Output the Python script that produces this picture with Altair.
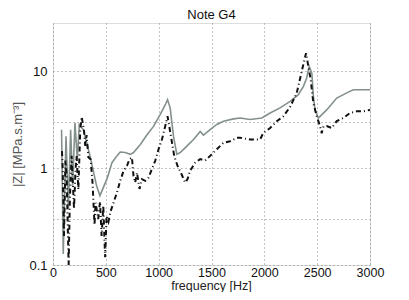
import altair as alt
import pandas as pd

gray_f = [81, 97, 123, 145, 167, 186, 208, 230, 249, 287, 350, 412, 444, 510, 558, 605, 636, 684,
          731, 762, 825, 888, 951, 1015, 1062, 1084, 1109, 1140, 1172, 1204, 1267, 1330, 1393, 1424,
          1487, 1550, 1613, 1708, 1771, 1865, 1976, 2055, 2149, 2244, 2322, 2370, 2400, 2425, 2450,
          2464, 2480, 2511, 2590, 2685, 2780, 2842, 3000]
gray_v = [2.5, 0.13, 2.14, 0.38, 2.5, 0.66, 2.94, 1.24, 2.83, 2.5, 1.34, 0.66, 0.52, 0.77, 1.14, 1.34,
          1.47, 1.45, 1.39, 1.45, 1.75, 2.2, 2.7, 3.6, 4.5, 5.1, 4.2, 2.14, 1.39, 1.45, 1.69, 1.98, 2.4,
          2.2, 2.5, 2.83, 3.06, 3.23, 3.3, 3.18, 3.3, 3.72, 4.2, 4.9, 5.75, 7.0, 8.5, 11.2, 9.5,
          5.5, 4.0, 3.3, 4.0, 5.3, 6.0, 6.45, 6.45]

black_f = [85, 91, 104, 118, 129, 148, 160, 176, 199, 212, 223, 240, 258, 271, 293, 305, 318, 335,
           356, 374, 393, 403, 428, 445, 460, 476, 493, 507, 525, 542, 573, 605, 636, 668, 700, 724,
           747, 762, 778, 795, 819, 841, 873, 904, 936, 967, 999, 1031, 1062, 1084, 1116, 1147, 1178,
           1210, 1251, 1273, 1298, 1345, 1393, 1440, 1487, 1550, 1613, 1676, 1740, 1771, 1865, 1960,
           1991, 2055, 2118, 2180, 2244, 2307, 2354, 2385, 2395, 2417, 2439, 2464, 2496, 2527, 2543,
           2560, 2590, 2638, 2685, 2748, 2811, 2874, 2937, 3000]
black_v = [1.5, 1.05, 0.2, 1.2, 0.83, 0.1, 0.5, 1.34, 0.38, 0.9, 1.34, 0.6, 2.5, 3.4, 2.5, 1.7, 2.2,
           1.3, 1.24, 0.71, 0.26, 0.44, 0.30, 0.45, 0.2, 0.41, 0.12, 0.32, 0.28, 0.35, 0.44, 0.56, 0.74,
           0.94, 1.06, 1.24, 1.29, 0.83, 0.71, 0.9, 0.61, 0.77, 0.74, 0.8, 0.98, 1.19, 1.57, 1.98, 2.72,
           3.44, 2.14, 1.34, 1.06, 0.9, 0.71, 0.77, 0.94, 1.14, 1.24, 1.2, 1.34, 1.57, 1.83, 1.9, 2.06,
           2.06, 1.98, 1.98, 2.32, 2.6, 3.06, 3.44, 4.3, 6.0, 10.0, 14.0, 15.4, 11.2, 8.2, 4.7, 3.44,
           2.72, 2.3, 2.7, 2.72, 2.6, 3.06, 3.3, 3.72, 3.87, 3.87, 4.0]

y_ticks = [0.1, 0.3, 1, 3, 10]
x_ticks = [0, 500, 1000, 1500, 2000, 2500, 3000]

gray_df = pd.DataFrame({"f": gray_f, "z": gray_v})
black_df = pd.DataFrame({"f": black_f, "z": black_v})

FONT = "Liberation Sans"
TOP = 15
H = 242

x_enc = alt.X("f:Q", scale=alt.Scale(domain=[0, 3000], nice=False),
              axis=alt.Axis(values=x_ticks, format="d", title="frequency [Hz]", grid=True,
                            gridDash=[1, 3], gridColor="#888888", gridOpacity=1,
                            ticks=False, domain=False, labelFontSize=12.5, titleFontSize=12.5,
                            labelPadding=1, labelColor="#111111",
                            titleColor="#222222", titleFontWeight="normal", labelFont=FONT,
                            titleFont=FONT, labelFlush=False,
                            titleBaseline="alphabetic", titleY=284 - 2.5 - TOP - H, titleX=158,
                            titleAlign="center"))
y_enc = alt.Y("z:Q", scale=alt.Scale(type="log", domain=[0.1, 31.6], nice=False),
              axis=alt.Axis(values=y_ticks, title="|Z|  [MPa.s.m⁻³]", grid=True,
                            gridDash=[1, 3], gridColor="#888888", gridOpacity=1,
                            ticks=False, domain=False, labelFontSize=13, titleFontSize=13,
                            labelPadding=6, labelColor="#111111",
                            titleColor="#555555", titleFontWeight="normal", labelFont=FONT,
                            titleFont=FONT, titleX=-36, titleY=H / 2, titleAlign="center",
                            titleBaseline="middle", titleAngle=270,
                            labelExpr="datum.value == 0.1 ? '0.1' : (datum.value == 1 ? '1' : (datum.value == 10 ? '10' : ''))"))

gray = alt.Chart(gray_df).mark_line(color="#84908b", strokeWidth=1.6, clip=True).encode(
    x=x_enc, y=y_enc, order="f:Q")
black = alt.Chart(black_df).mark_line(color="#111111", strokeWidth=2, strokeDash=[5, 3, 1, 3],
                                      clip=True).encode(x=x_enc, y=y_enc, order="f:Q")

chart = alt.layer(gray, black).properties(
    width=317, height=H,
    title=alt.TitleParams("Note G4", fontSize=13, fontWeight="normal", font=FONT, offset=1,
                          color="#111111"),
    autosize=alt.AutoSizeParams(type="none"),
    padding={"left": 45, "top": TOP, "right": 31, "bottom": 284 - TOP - H},
).configure_view(stroke="black", strokeWidth=1.2).configure(background="white")

chart.save("out.html", embed_options={"renderer": "svg", "actions": False})
